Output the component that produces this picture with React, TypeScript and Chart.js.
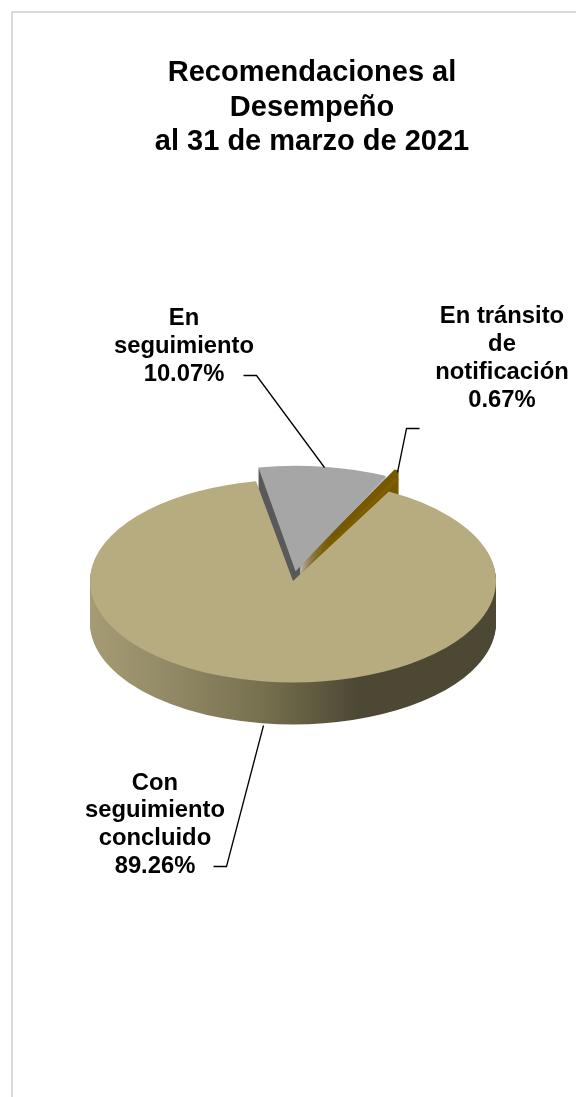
import React, { useEffect, useRef } from "react";
import { Chart, registerables } from "chart.js";

Chart.register(...registerables);

const categories = ["En seguimiento", "En tránsito de notificación", "Con seguimiento concluido"];
const values = [10.07, 0.67, 89.26];
const topColors = ["#a6a6a6", "#7f6000", "#b7ac7f"];
const titleLines = ["Recomendaciones al", "Desempeño", "al 31 de marzo de 2021"];
const labelLines = [
  ["En", "seguimiento", "10.07%"],
  ["En tránsito", "de", "notificación", "0.67%"],
  ["Con", "seguimiento", "concluido", "89.26%"],
];

const DEPTH = 42;
const SQUASH = 0.5;

function sideFill(ctx: CanvasRenderingContext2D, i: number, cx: number, r: number) {
  if (i === 2) {
    const g = ctx.createLinearGradient(cx - r, 0, cx + r, 0);
    g.addColorStop(0, "#a59c74");
    g.addColorStop(0.195, "#928a66");
    g.addColorStop(0.426, "#77704f");
    g.addColorStop(0.66, "#4c4834");
    g.addColorStop(1, "#4c4834");
    return g;
  }
  if (i === 0) {
    const g = ctx.createLinearGradient(297, 0, 298, 0);
    g.addColorStop(0, "#595959");
    g.addColorStop(1, "#bdbdbd");
    return g;
  }
  return "#765800";
}

const pie3d = {
  id: "pie3d",
  beforeDatasetDraw(chart: any, args: any) {
    const ctx = chart.ctx as CanvasRenderingContext2D;
    const arcs = args.meta.data;
    const cx = arcs[0].x;
    const cy = arcs[0].y;
    const r = arcs[0].outerRadius;
    const applyTransform = (dy: number) => {
      ctx.translate(cx, cy + dy);
      ctx.scale(1, SQUASH);
      ctx.translate(-cx, -cy);
    };
    arcs.forEach((arc: any, i: number) => {
      const fill = sideFill(ctx, i, cx, r);
      const proxy = Object.create(arc, {
        options: {
          value: {
            backgroundColor: fill,
            borderColor: "transparent",
            borderWidth: 0,
            offset: arc.options.offset,
            spacing: 0,
            circular: true,
            borderRadius: 0,
            borderAlign: "center",
          },
        },
      });
      const from = i === 1 ? -9 : 1;
      for (let d = DEPTH; d >= from; d--) {
        ctx.save();
        applyTransform(d);
        arc.draw.call(proxy, ctx);
        ctx.restore();
      }
    });
    ctx.save();
    applyTransform(0);
  },
  afterDatasetDraw(chart: any) {
    chart.ctx.restore();
  },
  afterDraw(chart: any) {
    const ctx = chart.ctx as CanvasRenderingContext2D;
    ctx.save();
    ctx.fillStyle = "#000";
    ctx.textAlign = "center";
    ctx.textBaseline = "middle";
    ctx.font = 'bold 29px "Liberation Sans", Arial, sans-serif';
    titleLines.forEach((t, j) => ctx.fillText(t, 312, 73 + j * 34.5));
    const anchors = [
      { x: 184, y: 318, lh: 28 },
      { x: 502, y: 316, lh: 28 },
      { x: 155, y: 783, lh: 27.8 },
    ];
    ctx.font = 'bold 23.8px "Liberation Sans", Arial, sans-serif';
    labelLines.forEach((lines, i) => {
      lines.forEach((t, j) => ctx.fillText(t, anchors[i].x, anchors[i].y + j * anchors[i].lh));
    });
    const leaders = [
      [[243, 375], [256, 375], [324, 467]],
      [[419, 428], [406, 428], [397, 472]],
      [[213, 866], [226, 866], [263, 725]],
    ];
    ctx.strokeStyle = "#000";
    ctx.lineWidth = 1.3;
    leaders.forEach((pts) => {
      ctx.beginPath();
      pts.forEach(([x, y], k) => (k ? ctx.lineTo(x + 0.5, y + 0.5) : ctx.moveTo(x + 0.5, y + 0.5)));
      ctx.stroke();
    });
    ctx.restore();
  },
};

export default function App() {
  const ref = useRef<HTMLCanvasElement | null>(null);
  useEffect(() => {
    const chart = new Chart(ref.current as HTMLCanvasElement, {
      type: "pie",
      plugins: [pie3d],
      data: {
        labels: categories,
        datasets: [
          {
            data: values,
            backgroundColor: topColors,
            borderWidth: 0,
            offset: [78, 53, 0],
            clip: false,
          } as any,
        ],
      },
      options: {
        responsive: false,
        animation: false,
        rotation: -10.5,
        radius: 203,
        layout: { padding: { left: 10, right: 0, top: 65, bottom: 0 } },
        plugins: {
          legend: { display: false },
          tooltip: { enabled: false },
          title: { display: false },
        },
      },
    } as any);
    return () => chart.destroy();
  }, []);
  return (
    <div style={{ position: "fixed", left: 0, top: 0, width: 576, height: 1097, overflow: "hidden", background: "#fff" }}>
      <div style={{ position: "absolute", left: 11, top: 11, width: 565, height: 1086, borderLeft: "2px solid #d9d9d9", borderTop: "2px solid #d9d9d9" }} />
      <canvas ref={ref} width={576} height={1097} style={{ position: "absolute", left: 0, top: 0 }} />
    </div>
  );
}
